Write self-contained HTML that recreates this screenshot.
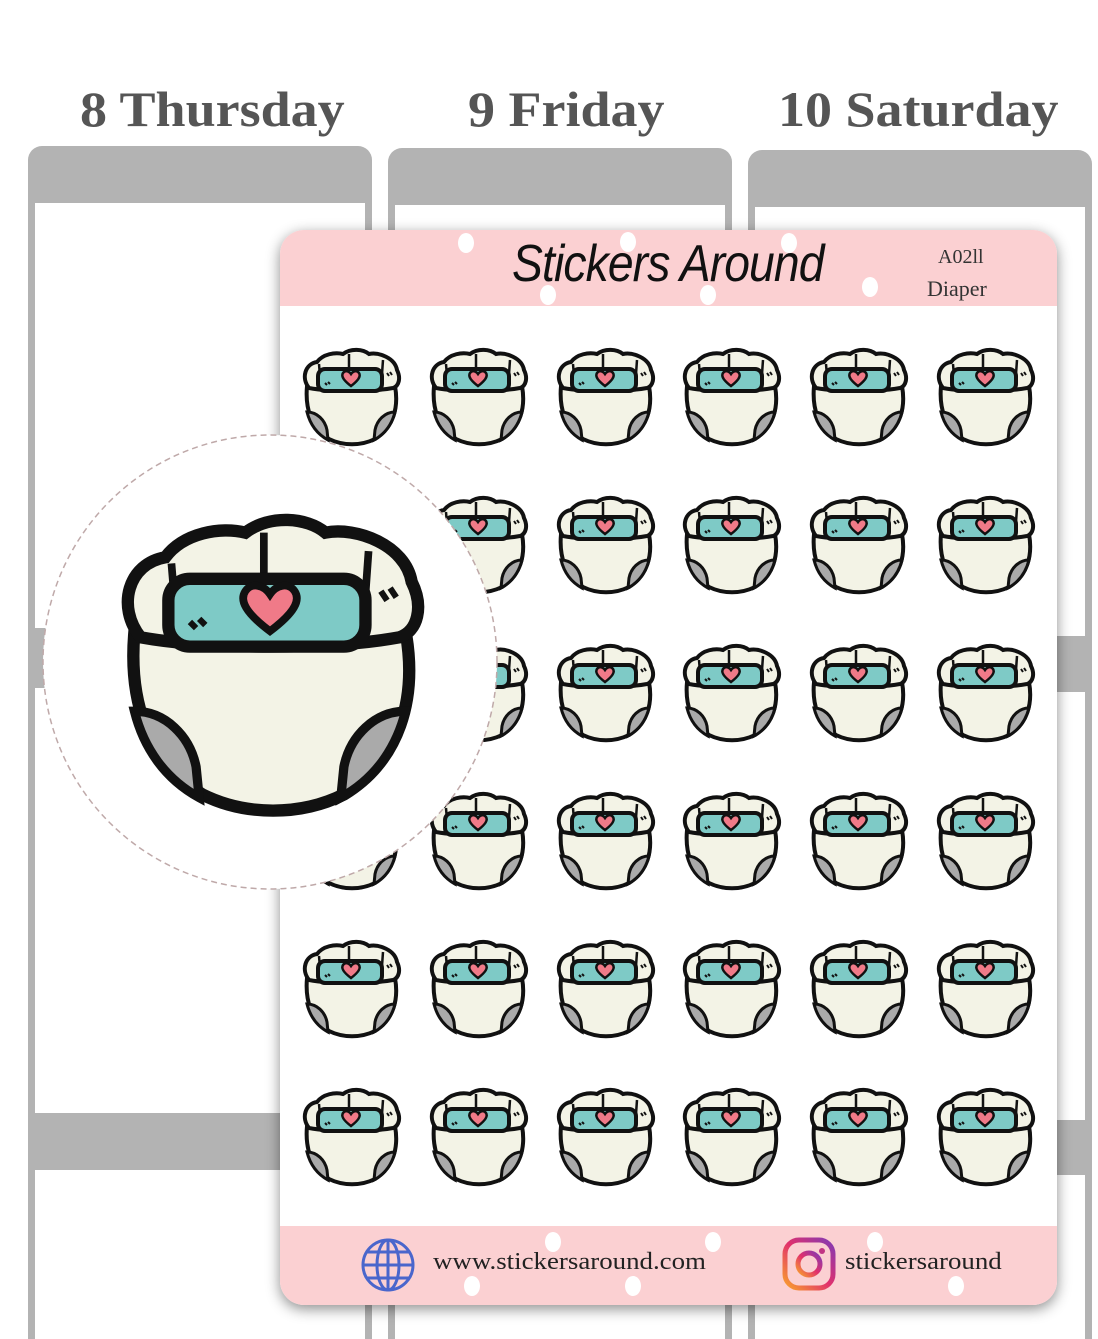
<!DOCTYPE html>
<html><head><meta charset="utf-8"><style>
body{margin:0;width:1098px;height:1339px;background:#fff;position:relative;overflow:hidden;font-family:"Liberation Sans",sans-serif}
.day{position:absolute;top:80px;font:bold 50px "Liberation Serif",serif;color:#555;transform:scaleX(1.08);transform-origin:left}
.col{position:absolute;background:#b3b3b3;border-radius:14px 14px 0 0}
.in{position:absolute;background:#fff}
.dot{position:absolute;width:16px;height:20px;border-radius:50%;background:#fff}
.ft{position:absolute;top:1249px;font:24px 'Liberation Serif',serif;color:#222;transform:scaleX(1.12);transform-origin:left}
</style></head><body>
<div class="day" style="left:80px">8 Thursday</div>
<div class="day" style="left:468px">9 Friday</div>
<div class="day" style="left:778px">10 Saturday</div>

<div class="col" style="left:28px;top:146px;width:344px;height:1193px"></div>
<div class="in" style="left:35px;top:203px;width:330px;height:425px"></div>
<div class="in" style="left:35px;top:688px;width:330px;height:425px"></div>
<div class="in" style="left:35px;top:1170px;width:330px;height:169px"></div>
<div class="col" style="left:388px;top:148px;width:344px;height:1191px"></div>
<div class="in" style="left:395px;top:205px;width:330px;height:425px"></div>
<div class="in" style="left:395px;top:690px;width:330px;height:425px"></div>
<div class="in" style="left:395px;top:1172px;width:330px;height:167px"></div>
<div class="col" style="left:748px;top:150px;width:344px;height:1189px"></div>
<div class="in" style="left:755px;top:207px;width:330px;height:429px"></div>
<div class="in" style="left:755px;top:692px;width:330px;height:428px"></div>
<div class="in" style="left:755px;top:1175px;width:330px;height:164px"></div>

<div style="position:absolute;left:280px;top:230px;width:777px;height:1075px;background:#fff;border-radius:24px;box-shadow:0 4px 14px rgba(0,0,0,0.45);overflow:hidden">
 <div style="position:absolute;left:0;top:0;width:777px;height:76px;background:#fbd0d2"></div>
 <div style="position:absolute;left:0;top:996px;width:777px;height:79px;background:#fbd0d2"></div>
</div>
<div class="dot" style="left:458px;top:233px"></div>
<div class="dot" style="left:620px;top:232px"></div>
<div class="dot" style="left:781px;top:233px"></div>
<div class="dot" style="left:862px;top:277px"></div>
<div class="dot" style="left:540px;top:285px"></div>
<div class="dot" style="left:700px;top:285px"></div>
<div style="position:absolute;left:512px;top:234px;font:italic 52px 'Liberation Sans Narrow','Liberation Sans',sans-serif;color:#111;letter-spacing:-1px;transform:scaleX(0.89);transform-origin:left">Stickers Around</div>
<div style="position:absolute;left:938px;top:246px;font:20px 'Liberation Serif',serif;color:#333">A02ll</div>
<div style="position:absolute;left:927px;top:276px;font:22px 'Liberation Serif',serif;color:#333">Diaper</div>

<div class="dot" style="left:545px;top:1232px"></div>
<div class="dot" style="left:705px;top:1232px"></div>
<div class="dot" style="left:867px;top:1232px"></div>
<div class="dot" style="left:464px;top:1276px"></div>
<div class="dot" style="left:625px;top:1276px"></div>
<div class="dot" style="left:948px;top:1276px"></div>
<svg style="position:absolute;left:360px;top:1237px" width="56" height="56" viewBox="0 0 56 56" fill="none" stroke="#4a66cc" stroke-width="3"><circle cx="28" cy="28" r="25"/><ellipse cx="28" cy="28" rx="11" ry="25"/><line x1="28" y1="3" x2="28" y2="53"/><line x1="3" y1="28" x2="53" y2="28"/><path d="M7 15H49M7 41H49"/></svg>
<div class="ft" style="left:433px">www.stickersaround.com</div>
<svg style="position:absolute;left:782px;top:1237px" width="54" height="54" viewBox="0 0 54 54"><defs><linearGradient id="ig" x1="0" y1="1" x2="1" y2="0"><stop offset="0" stop-color="#f9a12e"/><stop offset="0.5" stop-color="#e1306c"/><stop offset="1" stop-color="#833ab4"/></linearGradient></defs><rect x="3" y="3" width="48" height="48" rx="14" fill="none" stroke="url(#ig)" stroke-width="5"/><circle cx="27" cy="27" r="11" fill="none" stroke="url(#ig)" stroke-width="5"/><circle cx="40" cy="14" r="3" fill="#c13584"/></svg>
<div class="ft" style="left:845px">stickersaround</div>

<svg width="0" height="0" style="position:absolute"><defs>
<g id="d">
 <path d="M6 40 C4 62 10 82 28 93 C42 100 60 100 74 93 C92 82 98 62 94 40 Z" fill="#f3f3e6" stroke="#111" stroke-width="4"/>
 <path d="M6 66 C16 66 24 74 26 84 L27 94 C16 88 9 78 6 66Z" fill="#aaa" stroke="#111" stroke-width="3"/>
 <path d="M94 66 C84 66 76 74 74 84 L73 94 C84 88 91 78 94 66Z" fill="#aaa" stroke="#111" stroke-width="3"/>
 <path d="M8 42 C0 32 4 18 16 16 C22 8 34 6 42 8 C50 2 62 3 68 8 C78 6 94 12 96 24 C100 32 98 40 92 42 C70 46 30 46 8 42Z" fill="#f3f3e6" stroke="#111" stroke-width="4"/>
 <path d="M18 18 L19 30 M48 8 L48 22 M82 14 L81 28" stroke="#111" stroke-width="2.5"/>
 <rect x="17" y="23" width="64" height="22" rx="7" fill="#7ecac6" stroke="#111" stroke-width="4"/>
 <path d="M50 40 C42 34 40 30 42 27 C44 24 48 25 50 28 C52 25 56 24 58 27 C60 30 58 34 50 40Z" fill="#f07a88" stroke="#111" stroke-width="2.5"/>
 <path d="M24 37 L26 39 M27 36 L29 38 M88 30 L86 27 M91 29 L89 26" stroke="#111" stroke-width="2"/>
</g></defs></svg>

<svg style="position:absolute;left:0;top:0" width="1098" height="1339">
<use href="#d" x="301" y="346"/><use href="#d" x="428" y="346"/><use href="#d" x="555" y="346"/><use href="#d" x="681" y="346"/><use href="#d" x="808" y="346"/><use href="#d" x="935" y="346"/>
<use href="#d" x="301" y="494"/><use href="#d" x="428" y="494"/><use href="#d" x="555" y="494"/><use href="#d" x="681" y="494"/><use href="#d" x="808" y="494"/><use href="#d" x="935" y="494"/>
<use href="#d" x="301" y="642"/><use href="#d" x="428" y="642"/><use href="#d" x="555" y="642"/><use href="#d" x="681" y="642"/><use href="#d" x="808" y="642"/><use href="#d" x="935" y="642"/>
<use href="#d" x="301" y="790"/><use href="#d" x="428" y="790"/><use href="#d" x="555" y="790"/><use href="#d" x="681" y="790"/><use href="#d" x="808" y="790"/><use href="#d" x="935" y="790"/>
<use href="#d" x="301" y="938"/><use href="#d" x="428" y="938"/><use href="#d" x="555" y="938"/><use href="#d" x="681" y="938"/><use href="#d" x="808" y="938"/><use href="#d" x="935" y="938"/>
<use href="#d" x="301" y="1086"/><use href="#d" x="428" y="1086"/><use href="#d" x="555" y="1086"/><use href="#d" x="681" y="1086"/><use href="#d" x="808" y="1086"/><use href="#d" x="935" y="1086"/>
<circle cx="270" cy="662" r="227" fill="#fff" stroke="#bfa9a9" stroke-width="1.5" stroke-dasharray="6 4"/>
<use href="#d" transform="translate(116 508) scale(3.08)"/>
</svg>
</body></html>
